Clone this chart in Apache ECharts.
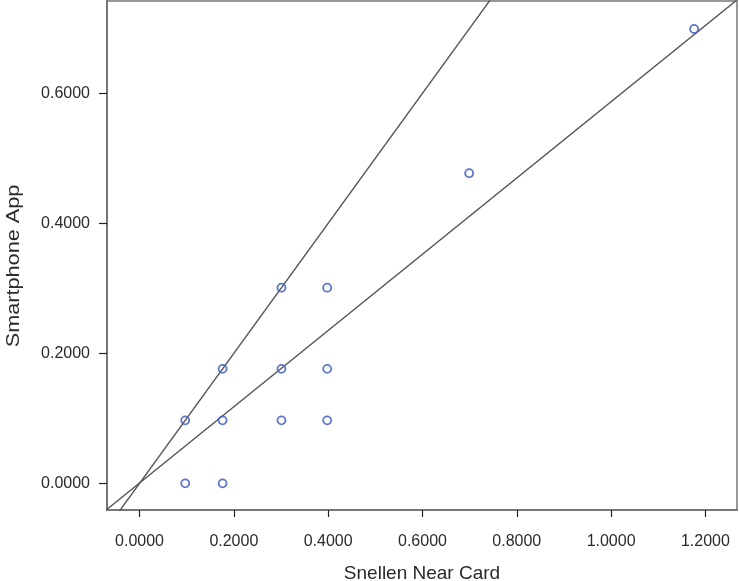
<!DOCTYPE html>
<html>
<head>
<meta charset="utf-8">
<script src="https://cdn.jsdelivr.net/npm/echarts@6/dist/echarts.min.js"></script>
<style>html,body{margin:0;padding:0;background:#fff}#c{width:739px;height:581px}</style>
</head>
<body>
<div id="c"></div>
<script>
var xTicks = [0, 0.2, 0.4, 0.6, 0.8, 1.0, 1.2];
var yTicks = [0, 0.2, 0.4, 0.6];
var snellen = [0.0969, 0.1761, 0.0969, 0.1761, 0.3010, 0.3979, 0.1761, 0.3010, 0.3979, 0.3010, 0.3979, 0.6990, 1.1761];
var app     = [0.0000, 0.0000, 0.0969, 0.0969, 0.0969, 0.0969, 0.1761, 0.1761, 0.1761, 0.3010, 0.3010, 0.4771, 0.6990];
var identityLine = [[-0.1, -0.1], [0.8, 0.8]];
var fitLine = [[-0.1, -0.058], [1.3, 0.763]];
var xName = 'Snellen Near Card';
var yName = 'Smartphone App';

var pts = snellen.map(function (v, i) { return [v, app[i]]; });
var fmt = function (v) { return v.toFixed(4); };
var ff = 'Liberation Sans, Arial, sans-serif';

var chart = echarts.init(document.getElementById('c'));
chart.setOption({
  animation: false,
  grid: { left: 107, right: 2, top: 1, bottom: 71, outerBoundsMode: 'none', containLabel: false,
          show: true, borderColor: '#999', borderWidth: 2, backgroundColor: '#fff' },
  xAxis: {
    type: 'value', min: -0.069, max: 1.267,
    name: xName, nameLocation: 'middle', nameGap: 54,
    nameTextStyle: { fontFamily: ff, fontSize: 19, color: '#2a2a2a' },
    axisLine: { show: true, onZero: false, lineStyle: { color: '#777', width: 2 } },
    axisTick: { show: true, length: 7, customValues: xTicks, lineStyle: { color: '#222', width: 1.2 } },
    axisLabel: { customValues: xTicks, formatter: fmt, margin: 24, fontFamily: ff, fontSize: 16, color: '#2a2a2a' },
    splitLine: { show: false }
  },
  yAxis: {
    type: 'value', min: -0.041, max: 0.742,
    axisLine: { show: true, onZero: false, lineStyle: { color: '#777', width: 2 } },
    axisTick: { show: true, length: 8, customValues: yTicks, lineStyle: { color: '#222', width: 1.2 } },
    axisLabel: { customValues: yTicks, formatter: fmt, margin: 17, fontFamily: ff, fontSize: 16, color: '#2a2a2a' },
    splitLine: { show: false }
  },
  graphic: [{
    type: 'text', x: 14, y: 266, rotation: Math.PI / 2, scaleX: 1.14,
    style: { text: yName, fontFamily: ff, fontSize: 19, fill: '#2a2a2a', align: 'center', verticalAlign: 'middle' }
  }],
  series: [
    { type: 'line', data: identityLine, symbol: 'none', clip: true, lineStyle: { color: '#555', width: 1.4 }, z: 3 },
    { type: 'line', data: fitLine, symbol: 'none', clip: true, lineStyle: { color: '#555', width: 1.4 }, z: 3 },
    { type: 'scatter', data: pts, symbol: 'circle', symbolSize: 8, z: 4,
      itemStyle: { color: 'rgba(255,255,255,0)', borderColor: '#4a68c4', borderWidth: 1.8, opacity: 0.9 } }
  ]
});
</script>
</body>
</html>
